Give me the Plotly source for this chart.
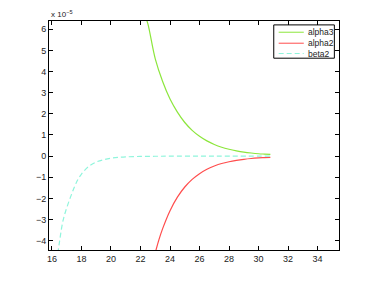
import plotly.graph_objects as go

SCALE = 1e-5  # y values below are in units of 1e-5

# alpha3 (green, decaying from above)
alpha3_x = [22.3, 22.5, 23.0, 23.5, 24.0, 24.5, 25.0, 25.5, 26.0, 26.5, 27.0, 27.5,
            28.0, 28.5, 29.0, 29.5, 30.0, 30.4, 30.8]
alpha3_y = [6.66, 6.25, 4.60, 3.53, 2.70, 2.08, 1.59, 1.22, 0.94, 0.72, 0.55, 0.42,
            0.325, 0.25, 0.19, 0.147, 0.113, 0.095, 0.08]

# alpha2 (red, rising from below)
alpha2_x = [23.0, 23.25, 23.5, 24.0, 24.5, 25.0, 25.5, 26.0, 26.5, 27.0, 27.5,
            28.0, 28.5, 29.0, 29.5, 30.0, 30.4, 30.8]
alpha2_y = [-4.57, -3.95, -3.43, -2.58, -1.94, -1.46, -1.10, -0.83, -0.62, -0.47, -0.35,
            -0.265, -0.20, -0.15, -0.112, -0.085, -0.068, -0.055]

# beta2 (cyan dashed)
beta2_x = [16.4, 16.5, 16.75, 17.0, 17.25, 17.5, 17.75, 18.0, 18.5, 19.0, 19.5, 20.0,
           20.5, 21.0, 22.0, 23.0, 24.0, 26.0, 28.0, 30.8]
beta2_y = [-4.6, -4.1, -3.05, -2.45, -1.95, -1.5, -1.12, -0.85, -0.48, -0.28, -0.17, -0.10,
           -0.06, -0.035, -0.015, -0.007, -0.004, -0.002, -0.001, 0.0]

x_ticks = [16, 18, 20, 22, 24, 26, 28, 30, 32, 34]
y_ticks = [-4, -3, -2, -1, 0, 1, 2, 3, 4, 5, 6]

FONT = "Liberation Sans, Arial, sans-serif"
TXT = "#222"

series = [
    ("alpha3", alpha3_x, alpha3_y, dict(color="#8ce63c", width=1.2)),
    ("alpha2", alpha2_x, alpha2_y, dict(color="#ff4d4d", width=1.2)),
    ("beta2", beta2_x, beta2_y, dict(color="#8ff5dc", width=1.2, dash="5px,3px")),
]

fig = go.Figure()
for name, xs, ys, line in series:
    fig.add_trace(go.Scatter(
        x=xs, y=[v * SCALE for v in ys], name=name, mode="lines",
        line=dict(shape="spline", **line), showlegend=False,
    ))

axis_common = dict(
    showgrid=False, zeroline=False, showline=True, linecolor="black", linewidth=1,
    mirror="ticks", ticks="inside", ticklen=4, tickcolor="black",
    tickfont=dict(family=FONT, size=9, color=TXT),
)
fig.update_xaxes(range=[15.8, 35.45], tickvals=x_ticks, ticktext=[str(t) for t in x_ticks],
                 **axis_common)
fig.update_yaxes(range=[-4.44 * SCALE, 6.39 * SCALE],
                 tickvals=[t * SCALE for t in y_ticks],
                 ticktext=[("\u2212" + str(-t)) if t < 0 else str(t) for t in y_ticks],
                 **axis_common)

fig.add_annotation(
    text="x 10<sup>\u22125</sup>", xref="paper", yref="paper", x=0, y=1,
    xanchor="left", yanchor="bottom", showarrow=False,
    font=dict(family=FONT, size=8, color=TXT),
)

# MATLAB-style legend box drawn by hand (plotly's legend rows are too tall)
fig.add_shape(type="rect", xref="paper", yref="paper", x0=0.775, x1=0.984, y0=0.8376, y1=0.983,
              line=dict(color="black", width=1), fillcolor="white", layer="above")
row_y = [0.951, 0.903, 0.858]
for (name, _, _, line), ry in zip(series, row_y):
    fig.add_shape(type="line", xref="paper", yref="paper", x0=0.792, x1=0.8786, y0=ry, y1=ry,
                  line=dict(line, width=1), layer="above")
    fig.add_annotation(text=name, xref="paper", yref="paper", x=0.886, y=ry,
                       xanchor="left", yanchor="middle", showarrow=False,
                       font=dict(family=FONT, size=8.5, color=TXT))

# page body has an 8px margin, so margins are shifted to land on the same pixels
fig.update_layout(
    width=366, height=273,
    margin=dict(l=41, r=35, t=13, b=31),
    paper_bgcolor="white", plot_bgcolor="white",
)

fig.write_html("out.html")
